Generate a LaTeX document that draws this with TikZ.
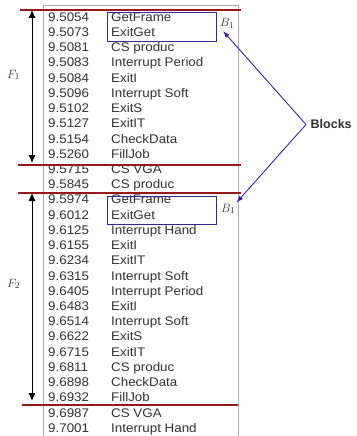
\documentclass[tikz,border=0pt]{standalone}
\usepackage{fontspec}
\setmainfont{Liberation Sans}
\newfontfamily\rowfont{Liberation Sans}[FakeStretch=1.07]
\usetikzlibrary{arrows.meta}
\definecolor{txtgray}{RGB}{50,50,50}
\definecolor{boxgray}{RGB}{170,170,170}
\definecolor{sepred}{RGB}{150,25,25}
\definecolor{blkblue}{RGB}{60,35,150}
\tikzset{
  rowtxt/.style={anchor=base west, inner sep=0pt, text=txtgray, font=\rowfont\fontsize{12.5}{15}\selectfont},
  sepline/.style={draw=sepred, line width=1.3pt},
  span/.style={draw=black, line width=0.9pt, {Latex[length=8pt,width=7pt]}-{Latex[length=8pt,width=7pt]}},
  blockbox/.style={draw=blkblue, line width=0.9pt},
  pointer/.style={draw=blkblue, line width=0.9pt, -{Latex[length=7pt,width=5pt]}},
  mathlbl/.style={anchor=base west, inner sep=0pt, text=txtgray, font=\fontsize{13}{15}\selectfont}
}
\begin{document}
\begin{tikzpicture}[x=1pt,y=-1pt]
\useasboundingbox (0,0) rectangle (356,436);
% gray frame
\draw[boxgray, line width=0.9pt] (43,440) -- (43,5) -- (238,5) -- (238,440);
% rows
\foreach \n/\t [count=\i from 0] in {
 9.5054/GetFrame, 9.5073/ExitGet, 9.5081/CS produc, 9.5083/Interrupt Period,
 9.5084/ExitI, 9.5096/Interrupt Soft, 9.5102/ExitS, 9.5127/ExitIT,
 9.5154/CheckData, 9.5260/FillJob, 9.5715/CS VGA, 9.5845/CS produc,
 9.5974/GetFrame, 9.6012/ExitGet, 9.6125/Interrupt Hand, 9.6155/ExitI,
 9.6234/ExitIT, 9.6315/Interrupt Soft, 9.6405/Interrupt Period, 9.6483/ExitI,
 9.6514/Interrupt Soft, 9.6622/ExitS, 9.6715/ExitIT, 9.6811/CS produc,
 9.6898/CheckData, 9.6932/FillJob, 9.6987/CS VGA, 9.7001/Interrupt Hand}{
  \pgfmathsetmacro{\yy}{21.3+15.22*\i}
  \node[rowtxt] (num\i) at (48,\yy) {\n};
  \node[rowtxt] (name\i) at (111,\yy) {\t};
}
% separators
\draw[sepline] (20,10) -- (241,10);
\draw[sepline] (18,165) -- (241,165);
\draw[sepline] (18,193) -- (241,193);
\draw[sepline] (22,405) -- (238,405);
% span arrows
\coordinate (f1top) at (32,10);
\coordinate (f1bot) at (32,163);
\coordinate (f2top) at (32,193);
\coordinate (f2bot) at (32,401);
\draw[span] (f1top) -- (f1bot);
\draw[span] (f2top) -- (f2bot);
\node[mathlbl] (F1) at (7,78) {$F_1$};
\node[mathlbl] (F2) at (7,287) {$F_2$};
% block boxes
\draw[blockbox] (107,12.7) rectangle (216,41);
\draw[blockbox] (107,196.7) rectangle (216,224.3);
\node[mathlbl] (b1) at (220,27) {$B_1$};
\node[mathlbl] (b2) at (221,212) {$B_1$};
% Blocks label and pointers
\node[anchor=west, inner xsep=4.5pt, inner ysep=0pt, text=txtgray, font=\bfseries\fontsize{12.5}{14}\selectfont] (blk) at (306,124.5) {Blocks};
\draw[pointer] (blk.west) -- ([shift={(3pt,-2pt)}]b1.south west);
\draw[pointer] (blk.west) -- ([shift={(1pt,1pt)}]b2.north east);
\end{tikzpicture}
\end{document}
